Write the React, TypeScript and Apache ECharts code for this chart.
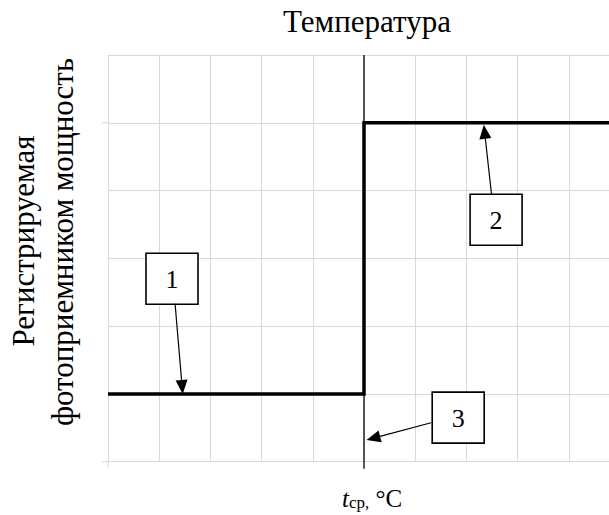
import React, { useEffect, useRef } from "react";
import * as echarts from "echarts";

// Axis ranges (arbitrary units: temperature on x, registered power on y)
const xRange = [0, 10];
const yRange = [0, 6];
const tcr = 5; // threshold temperature t_ср

// Step characteristic (curves 1 and 2)
const stepX = [0, 5, 5, 10];
const stepY = [1, 1, 5, 5];

// Ticks drawn on the axes
const yTickValues = [0, 5];
const xTickValues = [0];

// Callouts: label, box centre, arrow tail, arrow tip (data coordinates)
const calloutLabels = ["1", "2", "3"];
const boxX = [1.25, 7.58, 6.84];
const boxY = [2.7, 3.57, 0.65];
const tailX = [1.31, 7.49, 6.31];
const tailY = [2.33, 3.95, 0.575];
const tipX = [1.46, 7.34, 5.05];
const tipY = [1.0, 4.97, 0.32];

const FONT = "'Liberation Serif', 'Times New Roman', serif";
const GRID_COLOR = "#d9d9d9";

export default function App() {
  const ref = useRef<HTMLDivElement>(null);

  useEffect(() => {
    if (!ref.current) return;
    const chart = echarts.init(ref.current, null, { renderer: "svg" });
    chart.setOption({
      animation: false,
      backgroundColor: "#ffffff",
      grid: { left: 108, top: 55, width: 512, height: 406.7 },
      xAxis: {
        type: "value",
        min: xRange[0],
        max: xRange[1],
        interval: 1,
        axisLine: { show: true, onZero: false, lineStyle: { color: GRID_COLOR, width: 1 } },
        axisTick: { show: false },
        axisLabel: { show: false },
        splitLine: { show: true, lineStyle: { color: GRID_COLOR, width: 1 } },
      },
      yAxis: {
        type: "value",
        min: yRange[0],
        max: yRange[1],
        interval: 1,
        axisLine: { show: true, lineStyle: { color: GRID_COLOR, width: 1 } },
        axisTick: { show: false },
        axisLabel: { show: false },
        splitLine: { show: true, lineStyle: { color: GRID_COLOR, width: 1 } },
      },
      series: [
        {
          type: "line",
          data: stepX.map((x, i) => [x, stepY[i]]),
          showSymbol: false,
          symbol: "none",
          lineStyle: { color: "#000000", width: 3.5, join: "miter" },
          z: 5,
          silent: true,
        },
      ],
    });

    const px = (x: number, y: number) =>
      chart.convertToPixel({ gridIndex: 0 }, [x, y]) as number[];

    const elements: any[] = [];
    const [x0, yBottom] = px(xRange[0], yRange[0]);
    const [, yTop] = px(xRange[0], yRange[1]);

    // axis ticks
    yTickValues.forEach((v) => {
      const [, y] = px(xRange[0], v);
      elements.push({
        type: "line",
        shape: { x1: x0 - 6, y1: y, x2: x0, y2: y },
        style: { stroke: GRID_COLOR, lineWidth: 1 },
      });
    });
    xTickValues.forEach((v) => {
      const [x] = px(v, yRange[0]);
      elements.push({
        type: "line",
        shape: { x1: x, y1: yBottom, x2: x, y2: yBottom + 6 },
        style: { stroke: GRID_COLOR, lineWidth: 1 },
      });
    });

    // thin black t_cp line
    const [xt] = px(tcr, 0);
    elements.push({
      type: "line",
      shape: { x1: xt, y1: yTop, x2: xt, y2: yBottom + 7 },
      style: { stroke: "#000000", lineWidth: 1.3 },
      z: 4,
    });

    // callouts
    calloutLabels.forEach((lab, i) => {
      const [cx, cy] = px(boxX[i], boxY[i]);
      const [sx, sy] = px(tailX[i], tailY[i]);
      const [tx, ty] = px(tipX[i], tipY[i]);
      const w = 52;
      const h = 51;
      elements.push({
        type: "rect",
        shape: { x: cx - w / 2, y: cy - h / 2, width: w, height: h },
        style: { fill: "#ffffff", stroke: "#000000", lineWidth: 1.6 },
        z: 10,
      });
      elements.push({
        type: "text",
        x: cx,
        y: cy + 1,
        style: {
          text: lab,
          font: `26px ${FONT}`,
          fill: "#000000",
          textAlign: "center",
          textVerticalAlign: "middle",
        },
        z: 11,
      });
      const dx = tx - sx;
      const dy = ty - sy;
      const len = Math.sqrt(dx * dx + dy * dy);
      const ux = dx / len;
      const uy = dy / len;
      const headL = 14;
      const headW = 6;
      const bx = tx - ux * headL;
      const by = ty - uy * headL;
      elements.push({
        type: "line",
        shape: { x1: sx, y1: sy, x2: bx + ux * 2, y2: by + uy * 2 },
        style: { stroke: "#000000", lineWidth: 1.2 },
        z: 10,
      });
      elements.push({
        type: "polygon",
        shape: {
          points: [
            [tx, ty],
            [bx - uy * headW, by + ux * headW],
            [bx + uy * headW, by - ux * headW],
          ],
        },
        style: { fill: "#000000" },
        z: 10,
      });
    });

    // title
    elements.push({
      type: "text",
      x: 367,
      y: 21,
      style: {
        text: "Температура",
        font: `31px ${FONT}`,
        fill: "#000000",
        textAlign: "center",
        textVerticalAlign: "middle",
      },
    });

    // y-axis title (two lines, rotated)
    elements.push({
      type: "text",
      x: 23,
      y: 241,
      rotation: Math.PI / 2,
      style: {
        text: "Регистрируемая",
        font: `31px ${FONT}`,
        fill: "#000000",
        textAlign: "center",
        textVerticalAlign: "middle",
      },
    });
    elements.push({
      type: "text",
      x: 62,
      y: 242,
      rotation: Math.PI / 2,
      style: {
        text: "фотоприемником мощность",
        font: `31px ${FONT}`,
        fill: "#000000",
        textAlign: "center",
        textVerticalAlign: "middle",
      },
    });

    // x-axis label t_ср, °C
    elements.push({
      type: "text",
      x: 372,
      y: 497,
      style: {
        text: "{i|t}{s|ср,}{n| °C}",
        fill: "#000000",
        textAlign: "center",
        textVerticalAlign: "middle",
        rich: {
          i: { font: `italic 25px ${FONT}`, fill: "#000000", verticalAlign: "bottom", lineHeight: 28 },
          s: { font: `17px ${FONT}`, fill: "#000000", verticalAlign: "bottom", lineHeight: 23 },
          n: { font: `25px ${FONT}`, fill: "#000000", verticalAlign: "bottom", lineHeight: 28 },
        },
      },
    });

    chart.setOption({ graphic: elements });
    return () => chart.dispose();
  }, []);

  return (
    <div
      style={{
        position: "fixed",
        left: 0,
        top: 0,
        width: 609,
        height: 515,
        overflow: "hidden",
        background: "#fff",
      }}
    >
      <div ref={ref} style={{ width: 630, height: 515 }} />
    </div>
  );
}
